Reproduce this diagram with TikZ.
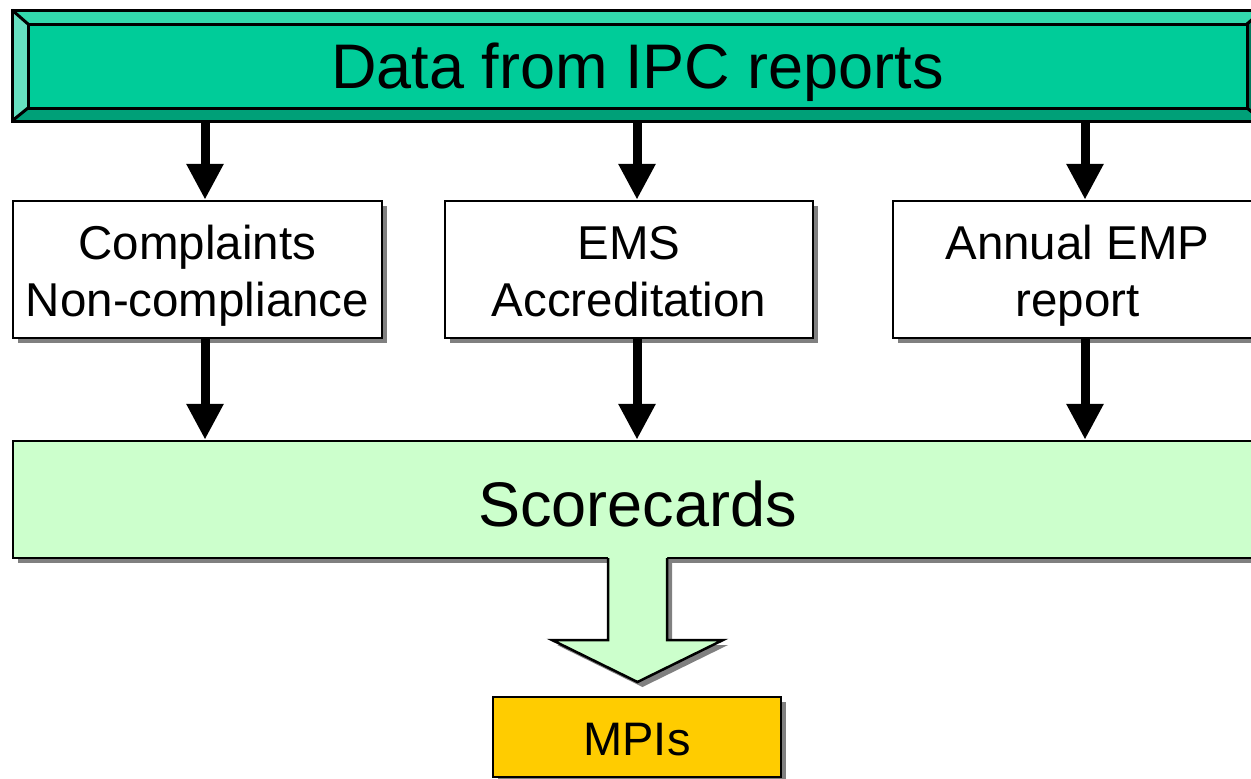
\documentclass[tikz,border=0pt]{standalone}
\usepackage{fontspec}
\setmainfont{Liberation Sans}
\usetikzlibrary{arrows.meta,shadows,calc}
\definecolor{tealmain}{HTML}{00CC99}
\definecolor{tealtop}{HTML}{33D9AD}
\definecolor{tealleft}{HTML}{66E0C0}
\definecolor{tealbot}{HTML}{00A078}
\definecolor{tealright}{HTML}{007A5C}
\definecolor{scgreen}{HTML}{CCFFCC}
\definecolor{mpiyellow}{HTML}{FFCC00}
\definecolor{shadowgray}{HTML}{808080}
\begin{document}
\begin{tikzpicture}[x=1pt,y=-1pt,
  shad/.style={drop shadow={shadow xshift=5pt,shadow yshift=-5pt,fill=shadowgray,opacity=1}},
  box/.style={draw=black,line width=2.5pt,fill=white,shad,inner sep=0pt,
    minimum height=137pt,align=center,font=\fontsize{47.5}{57}\selectfont,
    text height=93pt,text depth=0pt},
  arr/.style={line width=9pt,-{Triangle[length=36pt,width=35pt]}},
  bevel/.style={draw=black,line width=3pt,line join=miter}]
\useasboundingbox (0,0) rectangle (1251,779);
\clip (0,0) rectangle (1251,779);

% bevelled title frame
\coordinate (o1) at (12,10);
\coordinate (o2) at (1263,10);
\coordinate (o3) at (1263,121);
\coordinate (o4) at (12,121);
\coordinate (i1) at (28,24);
\coordinate (i2) at (1247,24);
\coordinate (i3) at (1247,108);
\coordinate (i4) at (28,108);
\fill[tealtop] (o1) -- (o2) -- (i2) -- (i1) -- cycle;
\fill[tealleft] (o1) -- (i1) -- (i4) -- (o4) -- cycle;
\fill[tealbot] (o4) -- (i4) -- (i3) -- (o3) -- cycle;
\fill[tealright] (o2) -- (o3) -- (i3) -- (i2) -- cycle;
\draw[bevel] (o1) -- (o2) -- (o3) -- (o4) -- cycle;
\draw[bevel] (o1) -- (i1) (o4) -- (i4) (o2) -- (i2) (o3) -- (i3);
\node[minimum width=1251pt,minimum height=111pt,inner sep=0pt] (topouter) at (637.5,65.5) {};
\node[draw=black,line width=3pt,fill=tealmain,minimum width=1219pt,minimum height=84pt,
  inner sep=0pt,font=\fontsize{63}{70}\selectfont,text height=44pt,text depth=0pt]
  (top) at (637.5,66) {Data from IPC reports};

% middle boxes
\node[box,minimum width=369pt] (b1) at (197.5,269.5) {Complaints\\Non-compliance};
\node[box,minimum width=368pt] (b2) at (629,269.5) {EMS\\Accreditation};
\node[box,minimum width=369pt] (b3) at (1077.5,269.5) {Annual EMP\\report};

% scorecards
\node[draw=black,line width=2.5pt,fill=scgreen,shad,inner sep=0pt,
  minimum width=1249pt,minimum height=117pt,font=\fontsize{63}{70}\selectfont,
  text height=53pt,text depth=0pt] (sc) at (637.5,499.5) {Scorecards};

% arrows top -> boxes
\draw[arr] ([xshift=7.5pt]b1.north |- topouter.south) -- ([xshift=7.5pt]b1.north);
\draw[arr] ([xshift=8pt]b2.north |- topouter.south) -- ([xshift=8pt]b2.north);
\draw[arr] ([xshift=7.5pt]b3.north |- topouter.south) -- ([xshift=7.5pt]b3.north);
% arrows boxes -> scorecards
\draw[arr] ([xshift=7.5pt]b1.south) -- ([xshift=7.5pt]b1.south |- sc.north);
\draw[arr] ([xshift=8pt]b2.south) -- ([xshift=8pt]b2.south |- sc.north);
\draw[arr] ([xshift=7.5pt]b3.south) -- ([xshift=7.5pt]b3.south |- sc.north);

% MPIs box
\node[draw=black,line width=2.5pt,fill=mpiyellow,shad,inner sep=0pt,
  minimum width=288pt,minimum height=80pt,font=\fontsize{47}{55}\selectfont,
  text height=36pt,text depth=0pt] (mpi) at (637,737) {MPIs};

% block arrow scorecards -> MPIs
\coordinate (s1) at (608,556.5);
\coordinate (s2) at (608,640);
\coordinate (h1) at (552,640);
\coordinate (tip) at (637.5,682);
\coordinate (h2) at (723,640);
\coordinate (s3) at (667,640);
\coordinate (s4) at (667,556.5);
\path[fill=scgreen,shad] (s1) -- (s2) -- (h1) -- (tip) -- (h2) -- (s3) -- (s4) -- cycle;
\draw[line width=2.5pt,line join=miter] ([yshift=-1.5pt]s1) -- (s2) -- (h1) -- (tip) -- (h2) -- (s3) -- ([yshift=-1.5pt]s4);
\end{tikzpicture}
\end{document}
